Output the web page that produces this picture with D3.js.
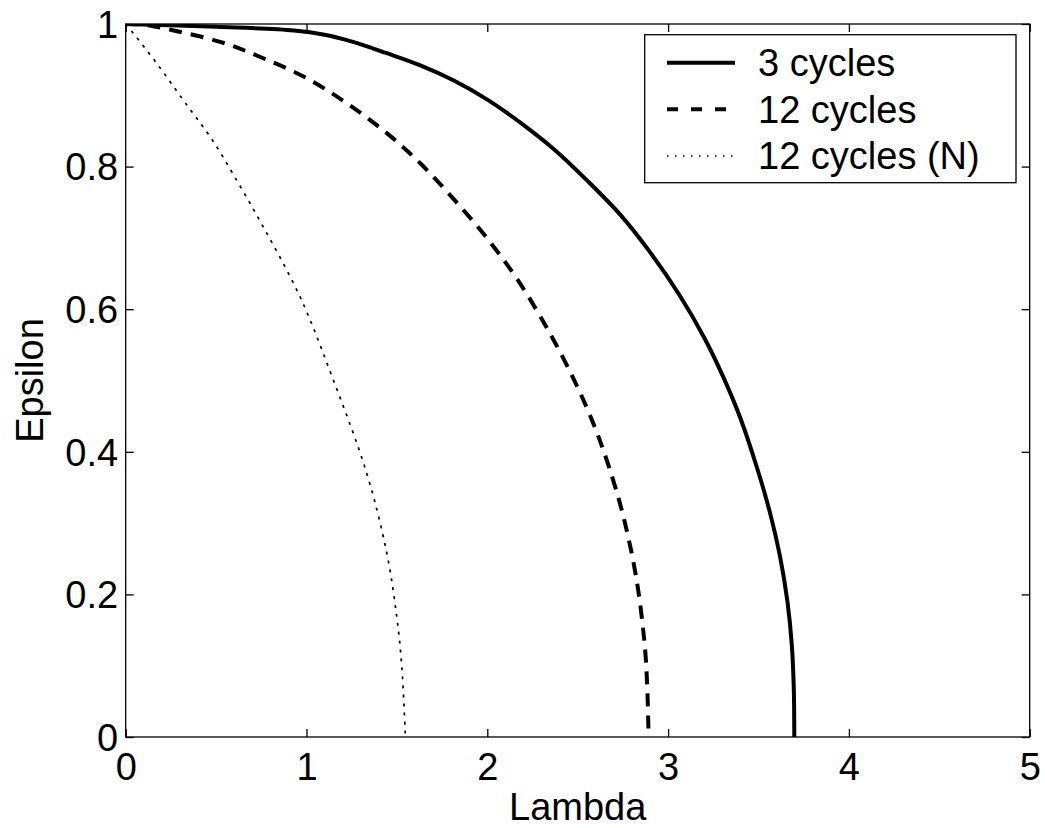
<!DOCTYPE html>
<html>
<head>
<meta charset="utf-8">
<script src="https://cdn.jsdelivr.net/npm/d3@7"></script>
<style>
  html, body { margin: 0; padding: 0; background: #fff; }
  svg { display: block; }
  text { font-family: "Liberation Sans", Arial, Helvetica, sans-serif; fill: #000; }
</style>
</head>
<body>
<svg id="chart" width="1045" height="828"></svg>
<script>
// ---- Data ----
const lambda3 = [0, 0.5, 0.93, 1.1, 1.257, 1.444, 1.63, 1.812, 2.0, 2.181, 2.37, 2.55, 2.734, 2.9, 3.06, 3.2, 3.305, 3.4, 3.49, 3.56, 3.62, 3.66, 3.684, 3.695, 3.698];
const eps3    = [1, 0.996, 0.991, 0.985, 0.975, 0.959, 0.942, 0.921, 0.894, 0.862, 0.824, 0.781, 0.733, 0.680, 0.621, 0.560, 0.505, 0.447, 0.379, 0.318, 0.252, 0.190, 0.130, 0.07, 0];

const lambda12 = [0, 0.1, 0.208, 0.522, 0.761, 1.001, 1.222, 1.444, 1.628, 1.812, 1.997, 2.163, 2.329, 2.476, 2.586, 2.665, 2.752, 2.826, 2.872, 2.886, 2.892];
const eps12    = [1, 0.999, 0.994, 0.975, 0.952, 0.924, 0.889, 0.847, 0.805, 0.755, 0.700, 0.643, 0.574, 0.503, 0.44, 0.385, 0.31, 0.22, 0.125, 0.06, 0];

const lambda12N = [0, 0.042, 0.171, 0.319, 0.485, 0.65, 0.74, 0.964, 1.148, 1.333, 1.444, 1.499, 1.527, 1.547];
const eps12N    = [1, 0.987, 0.945, 0.893, 0.835, 0.765, 0.725, 0.6175, 0.501, 0.37, 0.258, 0.169, 0.099, 0];

const seriesNames = ["3 cycles", "12 cycles", "12 cycles (N)"];
const xTicks = [0, 1, 2, 3, 4, 5];
const yTicks = [0, 0.2, 0.4, 0.6, 0.8, 1];
const xLabel = "Lambda";
const yLabel = "Epsilon";

// ---- Layout ----
const svg = d3.select("#chart");
const plot = { left: 125.7, right: 1029.7, top: 24, bottom: 737 };
const fontSize = 38;

const x = d3.scaleLinear().domain([0, 5]).range([plot.left, plot.right]);
const y = d3.scaleLinear().domain([0, 1]).range([plot.bottom, plot.top]);

const styles = [
  { width: 4, dash: null },
  { width: 4, dash: "13,9" },
  { width: 1.7, dash: "3,6" }
];

const series = [
  lambda3.map((l, i) => [l, eps3[i]]),
  lambda12.map((l, i) => [l, eps12[i]]),
  lambda12N.map((l, i) => [l, eps12N[i]])
];

const line = d3.line()
  .x(d => x(d[0]))
  .y(d => y(d[1]))
  .curve(d3.curveCatmullRom.alpha(0.5));

const clipId = "plotclip";
svg.append("clipPath").attr("id", clipId)
  .append("rect")
  .attr("x", plot.left).attr("y", plot.top)
  .attr("width", plot.right - plot.left).attr("height", plot.bottom - plot.top);

const gLines = svg.append("g").attr("clip-path", `url(#${clipId})`);
series.forEach((s, i) => {
  gLines.append("path")
    .datum(s)
    .attr("d", line)
    .attr("fill", "none")
    .attr("stroke", "#000")
    .attr("stroke-width", styles[i].width)
    .attr("stroke-dasharray", styles[i].dash)
    .attr("stroke-linejoin", "round");
});

// ---- Axes (ticks inside, mirrored on all sides) ----
const tickLen = 8;
const axisStroke = 1.3;

function styleAxis(g) {
  g.select(".domain").remove();
  g.selectAll(".tick line").attr("stroke", "#000").attr("stroke-width", axisStroke);
  g.selectAll(".tick text").attr("font-size", fontSize);
}

const xBottom = svg.append("g")
  .attr("transform", `translate(0,${plot.bottom})`)
  .call(d3.axisBottom(x).tickValues(xTicks).tickSize(-tickLen).tickFormat(d3.format("d")));
styleAxis(xBottom);
xBottom.selectAll(".tick text").attr("dy", null).attr("y", 43);

const xTop = svg.append("g")
  .attr("transform", `translate(0,${plot.top})`)
  .call(d3.axisTop(x).tickValues(xTicks).tickSize(-tickLen).tickFormat(""));
styleAxis(xTop);

const yLeft = svg.append("g")
  .attr("transform", `translate(${plot.left},0)`)
  .call(d3.axisLeft(y).tickValues(yTicks).tickSize(-tickLen).tickFormat(d => d === 0 || d === 1 ? String(d) : d3.format(".1f")(d)));
styleAxis(yLeft);
yLeft.selectAll(".tick text").attr("x", -7.5).attr("dy", "0.35em");

const yRight = svg.append("g")
  .attr("transform", `translate(${plot.right},0)`)
  .call(d3.axisRight(y).tickValues(yTicks).tickSize(-tickLen).tickFormat(""));
styleAxis(yRight);

// frame
svg.append("rect")
  .attr("x", plot.left).attr("y", plot.top)
  .attr("width", plot.right - plot.left).attr("height", plot.bottom - plot.top)
  .attr("fill", "none").attr("stroke", "#000").attr("stroke-width", axisStroke);

// axis labels
svg.append("text")
  .attr("x", (plot.left + plot.right) / 2)
  .attr("y", 820)
  .attr("text-anchor", "middle")
  .attr("font-size", fontSize)
  .text(xLabel);

svg.append("text")
  .attr("transform", `translate(43,${(plot.top + plot.bottom) / 2}) rotate(-90)`)
  .attr("text-anchor", "middle")
  .attr("font-size", fontSize)
  .text(yLabel);

// ---- Legend ----
const legend = { left: 644.7, top: 34.7, right: 1016, bottom: 182.7 };
const lg = svg.append("g");
lg.append("rect")
  .attr("x", legend.left).attr("y", legend.top)
  .attr("width", legend.right - legend.left).attr("height", legend.bottom - legend.top)
  .attr("fill", "#fff").attr("stroke", "#000").attr("stroke-width", axisStroke);

const rowY = [62.7, 109.3, 156];
const legendLineStyles = [
  { width: 4, dash: null },
  { width: 4, dash: "11,13" },
  { width: 1.4, dash: "1.5,6.5" }
];
seriesNames.forEach((name, i) => {
  lg.append("line")
    .attr("x1", 667).attr("x2", 735)
    .attr("y1", rowY[i]).attr("y2", rowY[i])
    .attr("stroke", "#000")
    .attr("stroke-width", legendLineStyles[i].width)
    .attr("stroke-dasharray", legendLineStyles[i].dash);
  lg.append("text")
    .attr("x", 758)
    .attr("y", rowY[i])
    .attr("dy", "0.35em")
    .attr("font-size", fontSize)
    .text(name);
});
</script>
</body>
</html>
